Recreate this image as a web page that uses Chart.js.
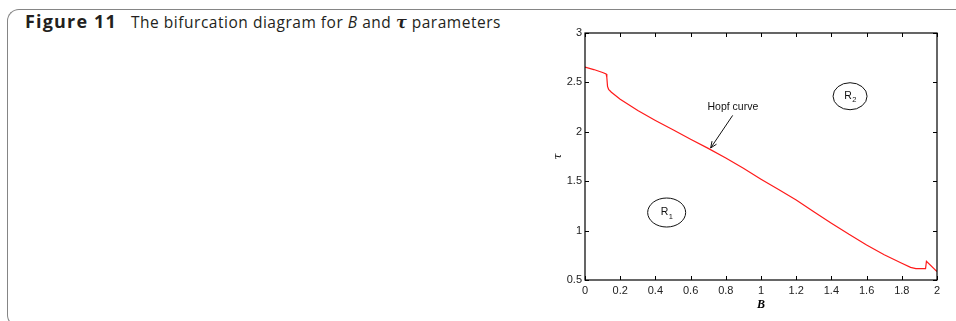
<!DOCTYPE html>
<html>
<head>
<meta charset="utf-8">
<script src="https://cdn.jsdelivr.net/npm/chart.js@4.4.1/dist/chart.umd.min.js"></script>
<style>
  html, body { margin: 0; padding: 0; background: #fff; width: 956px; height: 321px; overflow: hidden; }
  #frame {
    position: absolute; left: 7px; top: 9px; width: 1000px; height: 318px;
    border: 1.6px solid #858585; border-right: none;
    border-radius: 12px 0 0 12px; box-sizing: border-box;
  }
  #caption {
    position: absolute; left: 25px; top: 9px;
    font-family: "Open Sans", "Noto Sans", sans-serif; font-size: 15.5px; color: #231f20;
    white-space: nowrap;
  }
  #caption span { display: inline-block; vertical-align: baseline; }
  #fig { font-weight: 700; font-size: 18px; }
  #desc { margin-left: 14px; }
  #caption .tau { font-family: "DejaVu Serif", serif; font-style: italic; font-weight: bold; font-size: 16px; }
  #plot { position: absolute; left: 0; top: 0; }
</style>
</head>
<body>
<div id="frame"></div>
<div id="caption"><span id="fig">Figure 11</span><span id="desc">The bifurcation diagram for <i>B</i> and <span class="tau">τ</span> parameters</span></div>
<canvas id="plot" width="956" height="321"></canvas>
<script>
// Hopf bifurcation curve in the (B, tau) plane
const bValues = [0, 0.05, 0.10, 0.12, 0.124, 0.128, 0.134, 0.15, 0.2, 0.3, 0.4, 0.5, 0.6, 0.7, 0.8, 0.9,
                 1.0, 1.1, 1.2, 1.3, 1.4, 1.5, 1.6, 1.7, 1.8, 1.85, 1.88, 1.935, 1.94, 2.0];
const tauValues = [2.655, 2.63, 2.60, 2.585, 2.55, 2.46, 2.43, 2.40, 2.33, 2.215, 2.115, 2.02, 1.925, 1.832, 1.735, 1.63,
                   1.52, 1.415, 1.31, 1.19, 1.075, 0.962, 0.855, 0.755, 0.67, 0.628, 0.615, 0.615, 0.69, 0.585];

// Axis ticks
const bTicks = [0, 0.2, 0.4, 0.6, 0.8, 1, 1.2, 1.4, 1.6, 1.8, 2];
const tauTicks = [0.5, 1, 1.5, 2, 2.5, 3];

// Region labels (data coordinates) and the curve annotation
const regionNames = ['R1', 'R2'];
const regionB = [0.464, 1.506];
const regionTau = [1.183, 2.36];
const hopfText = 'Hopf curve';
const hopfTextAt = [0.84, 2.25];
const hopfArrowFrom = [0.839, 2.166];
const hopfArrowTo = [0.714, 1.836];

// Spread the caption pieces to their set widths
function fitWidth(el, target) {
  const chars = el.textContent.length;
  const w = el.getBoundingClientRect().width;
  el.style.letterSpacing = ((target - w) / chars) + 'px';
}
fitWidth(document.getElementById('fig'), 92);
fitWidth(document.getElementById('desc'), 370);

const curve = bValues.map((b, i) => ({ x: b, y: tauValues[i] }));

const tickFont = { family: "'Liberation Sans', Arial, sans-serif", size: 11 };
const annFont = "10.5px 'Liberation Sans', Arial, sans-serif";
const subFont = "7.5px 'Liberation Sans', Arial, sans-serif";

const overlay = {
  id: 'overlay',
  afterDraw(chart) {
    const { ctx, chartArea: a, scales: { x, y } } = chart;
    ctx.save();
    // plot frame
    ctx.strokeStyle = '#000';
    ctx.lineWidth = 1.2;
    ctx.strokeRect(a.left, a.top, a.right - a.left, a.bottom - a.top);
    // inward tick marks on all four sides
    ctx.lineWidth = 1;
    const len = 4;
    ctx.beginPath();
    bTicks.forEach(v => {
      const px = Math.round(x.getPixelForValue(v)) + 0.5;
      ctx.moveTo(px, a.bottom); ctx.lineTo(px, a.bottom - len);
      ctx.moveTo(px, a.top); ctx.lineTo(px, a.top + len);
    });
    tauTicks.forEach(v => {
      const py = Math.round(y.getPixelForValue(v)) + 0.5;
      ctx.moveTo(a.left, py); ctx.lineTo(a.left + len, py);
      ctx.moveTo(a.right, py); ctx.lineTo(a.right - len, py);
    });
    ctx.stroke();

    // axis titles
    ctx.fillStyle = '#000';
    ctx.textAlign = 'center';
    ctx.textBaseline = 'middle';
    ctx.font = "bold italic 12px 'Liberation Serif', serif";
    ctx.fillText('B', (a.left + a.right) / 2, a.bottom + 25);
    ctx.save();
    ctx.translate(a.left - 27, (a.top + a.bottom) / 2);
    ctx.rotate(-Math.PI / 2);
    ctx.font = "italic 11px 'DejaVu Serif', serif";
    ctx.fillText('τ', 0, 0);
    ctx.restore();

    // region ellipses with subscripted labels
    const radii = [[19, 14.5], [17, 13.5]];
    regionNames.forEach((name, i) => {
      const cx = x.getPixelForValue(regionB[i]);
      const cy = y.getPixelForValue(regionTau[i]);
      ctx.beginPath();
      ctx.ellipse(cx, cy, radii[i][0], radii[i][1], 0, 0, Math.PI * 2);
      ctx.strokeStyle = '#111';
      ctx.lineWidth = 1;
      ctx.stroke();
      ctx.fillStyle = '#111';
      ctx.textAlign = 'left';
      ctx.textBaseline = 'alphabetic';
      const main = name[0], sub = name.slice(1);
      ctx.font = annFont;
      const w = ctx.measureText(main).width;
      ctx.font = subFont;
      const ws = ctx.measureText(sub).width;
      const x0 = cx - (w + ws) / 2;
      ctx.font = annFont;
      ctx.fillText(main, x0, cy + 2.5);
      ctx.font = subFont;
      ctx.fillText(sub, x0 + w + 0.5, cy + 6);
    });

    // Hopf curve label and arrow
    ctx.font = annFont;
    ctx.textAlign = 'center';
    ctx.textBaseline = 'middle';
    ctx.fillStyle = '#111';
    ctx.fillText(hopfText, x.getPixelForValue(hopfTextAt[0]), y.getPixelForValue(hopfTextAt[1]));
    const x1 = x.getPixelForValue(hopfArrowFrom[0]), y1 = y.getPixelForValue(hopfArrowFrom[1]);
    const x2 = x.getPixelForValue(hopfArrowTo[0]), y2 = y.getPixelForValue(hopfArrowTo[1]);
    ctx.strokeStyle = '#111';
    ctx.lineWidth = 1;
    ctx.beginPath();
    ctx.moveTo(x1, y1); ctx.lineTo(x2, y2);
    ctx.stroke();
    const ang = Math.atan2(y2 - y1, x2 - x1);
    const hl = 7, hw = 0.4;
    ctx.beginPath();
    ctx.moveTo(x2, y2);
    ctx.lineTo(x2 - hl * Math.cos(ang - hw), y2 - hl * Math.sin(ang - hw));
    ctx.moveTo(x2, y2);
    ctx.lineTo(x2 - hl * Math.cos(ang + hw), y2 - hl * Math.sin(ang + hw));
    ctx.stroke();
    ctx.restore();
  }
};

new Chart(document.getElementById('plot'), {
  type: 'line',
  data: {
    datasets: [{
      data: curve,
      borderColor: '#ff1a1a',
      borderWidth: 1.2,
      pointRadius: 0,
      tension: 0,
      fill: false
    }]
  },
  options: {
    responsive: false,
    animation: false,
    events: [],
    layout: { padding: { left: 540, right: 19, top: 33, bottom: 0 } },
    plugins: { legend: { display: false }, tooltip: { enabled: false } },
    scales: {
      x: {
        type: 'linear',
        min: 0, max: 2,
        afterFit(scale) { scale.height = 41; },
        afterBuildTicks(scale) { scale.ticks = bTicks.map(v => ({ value: v })); },
        grid: { display: false, drawTicks: false },
        border: { display: false },
        ticks: { font: tickFont, color: '#222', padding: 4, maxRotation: 0, autoSkip: false,
                 callback: v => String(v) }
      },
      y: {
        type: 'linear',
        min: 0.5, max: 3,
        afterFit(scale) { scale.width = 45; },
        afterBuildTicks(scale) { scale.ticks = tauTicks.map(v => ({ value: v })); },
        grid: { display: false, drawTicks: false },
        border: { display: false },
        ticks: { font: tickFont, color: '#222', padding: 3, autoSkip: false,
                 callback: v => String(v) }
      }
    }
  },
  plugins: [overlay]
});
</script>
</body>
</html>
